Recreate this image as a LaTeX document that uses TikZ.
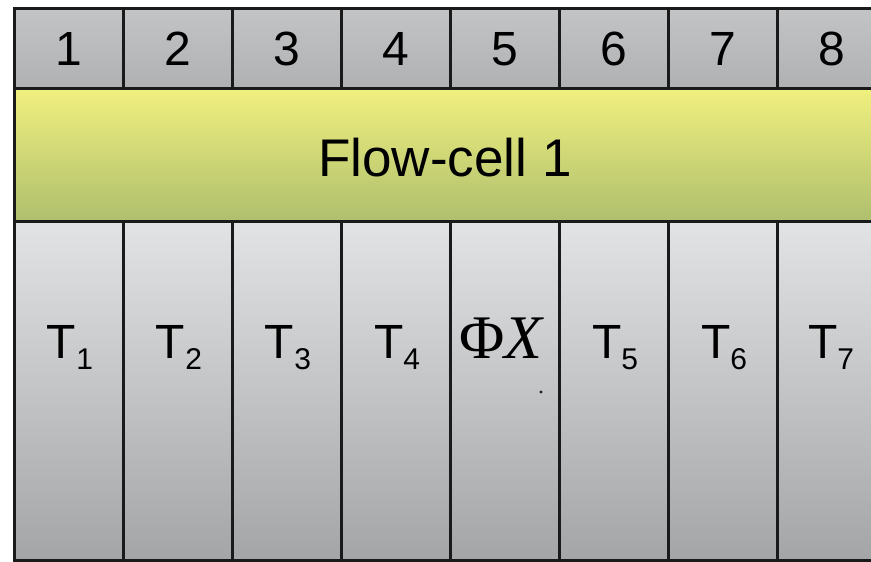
\documentclass[tikz,border=0pt]{standalone}
\usepackage{fontspec}
\setmainfont{Liberation Sans}
\newfontfamily\serifphi{Liberation Serif}
\definecolor{edge}{HTML}{1A1A1A}
\definecolor{hdtop}{HTML}{C2C4C6}
\definecolor{hdbot}{HTML}{AFB1B3}
\definecolor{yltop}{HTML}{F0F07E}
\definecolor{ylmid}{HTML}{E2E67A}
\definecolor{ylbot}{HTML}{AFBF6E}
\definecolor{coltop}{HTML}{E2E3E4}
\definecolor{colbot}{HTML}{A3A5A7}
\tikzset{
  hdcell/.style={top color=hdtop, bottom color=hdbot},
  lanecell/.style={top color=coltop, bottom color=colbot},
  bigtxt/.style={font=\fontsize{48}{48}\selectfont, inner sep=0pt},
  edgeline/.style={draw=edge, line width=3pt}
}
\newcommand{\Tsub}[1]{T\raisebox{-11pt}{\fontsize{30}{30}\selectfont #1}}
\begin{document}
\begin{tikzpicture}[x=1pt,y=-1pt]
\useasboundingbox (0,0) rectangle (871,562);
\fill[white] (0,0) rectangle (871,562);
% header row
\foreach \i in {0,...,7}{
  \pgfmathsetmacro{\xa}{14+109*\i}
  \pgfmathsetmacro{\xb}{min(14+109*(\i+1),873)}
  \shade[hdcell] (\xa,8) rectangle (\xb,88);
}
% flow cell band
\shade[top color=yltop, middle color=ylmid, bottom color=ylbot] (14,88) rectangle (873,221);
% lanes
\foreach \i in {0,...,7}{
  \pgfmathsetmacro{\xa}{14+109*\i}
  \pgfmathsetmacro{\xb}{min(14+109*(\i+1),873)}
  \shade[lanecell] (\xa,221) rectangle (\xb,560);
}
% frame lines
\draw[edgeline] (873,8) -- (14,8) -- (14,560) -- (873,560);
\draw[edgeline] (14,88) -- (873,88);
\draw[edgeline] (14,221) -- (873,221);
\foreach \i in {1,...,7}{
  \pgfmathsetmacro{\xa}{14+109*\i}
  \draw[edgeline] (\xa,8) -- (\xa,88);
  \draw[edgeline] (\xa,221) -- (\xa,560);
}
% header numbers
\foreach \i in {1,...,8}{
  \pgfmathsetmacro{\xc}{14+109*(\i-1)+54.5}
  \node[bigtxt] (num\i) at (\xc,49) {\i};
}
\node[bigtxt, font=\fontsize{53}{53}\selectfont] (flow) at (445,158) {Flow-cell 1};
% lane labels
\node[bigtxt, anchor=base] (t1) at (70,358) {\Tsub{1}};
\node[bigtxt, anchor=base] (t2) at (179,358) {\Tsub{2}};
\node[bigtxt, anchor=base] (t3) at (288,358) {\Tsub{3}};
\node[bigtxt, anchor=base] (t4) at (397,358) {\Tsub{4}};
\node[bigtxt, anchor=base] (phix) at (501,358) {\serifphi\fontsize{62}{62}\selectfont \char"03A6\itshape X};
\node[bigtxt, anchor=base] (t5) at (615,358) {\Tsub{5}};
\node[bigtxt, anchor=base] (t6) at (724,358) {\Tsub{6}};
\node[bigtxt, anchor=base] (t7) at (831,358) {\Tsub{7}};
\fill[edge] (541,392) circle (1.6);
\end{tikzpicture}
\end{document}
